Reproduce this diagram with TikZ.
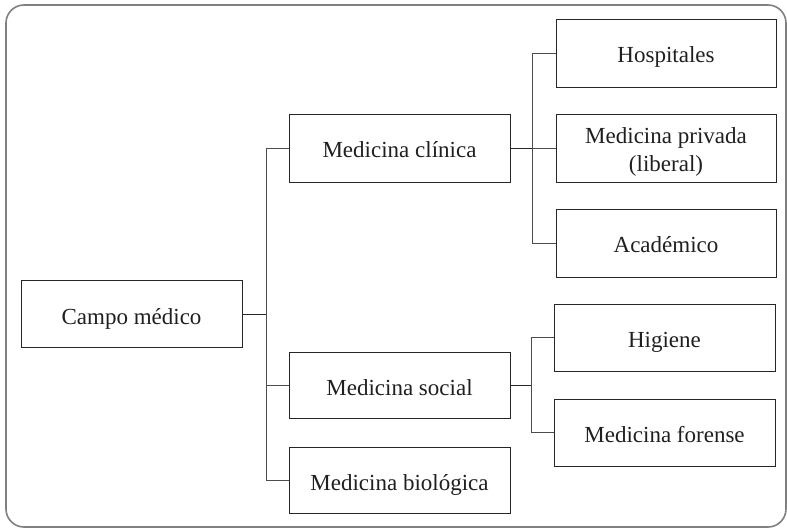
\documentclass[tikz,border=0pt]{standalone}
\usepackage{fontspec}
\setmainfont{Liberation Serif}
\begin{document}
\begin{tikzpicture}[x=1pt,y=-1pt,
  box/.style={draw=black!85,line width=0.9pt,rectangle,minimum width=221pt,minimum height=67pt,
    align=center,inner sep=0pt,font=\fontsize{23}{28}\selectfont,text=black!88,
    text height=20pt,text depth=0pt},
  conn/.style={draw=black!70,line width=0.9pt},
  frame/.style={draw=black!50,line width=1.6pt,rounded corners=18pt}]
\useasboundingbox (0,0) rectangle (787,529);
\draw[frame] (6,5) rectangle (786,527);
\node[box] (campo) at (131.5,314) {Campo médico};
\node[box,minimum height=68pt] (clin) at (399.5,148) {Medicina clínica};
\node[box,minimum height=66pt] (soc) at (399.5,385) {Medicina social};
\node[box,minimum height=66pt] (bio) at (399.5,480) {Medicina biológica};
\node[box,minimum width=220pt,minimum height=68pt] (hosp) at (666,53) {Hospitales};
\node[box,minimum width=220pt,minimum height=68pt,text height=48pt,text depth=0pt] (priv) at (666,148) {Medicina privada\\(liberal)};
\node[box,minimum width=220pt,minimum height=68pt] (acad) at (666,243) {Académico};
\node[box] (hig) at (664.5,337.5) {Higiene};
\node[box] (for) at (664.5,432.5) {Medicina forense};
\draw[conn,draw=black!85] (campo.east) -- ++(25,0);
\draw[conn] (clin.west) -- ++(-22,0) |- (bio.west);
\draw[conn] (soc.west) -- ++(-22,0);
\draw[conn,draw=black!85] (clin.east) -- ++(23,0);
\draw[conn] (hosp.west) -- ++(-23,0) |- (acad.west);
\draw[conn] (priv.west) -- ++(-23,0);
\draw[conn,draw=black!85] (soc.east) -- ++(22,0);
\draw[conn] (hig.west) -- ++(-22,0) |- (for.west);
\end{tikzpicture}
\end{document}
